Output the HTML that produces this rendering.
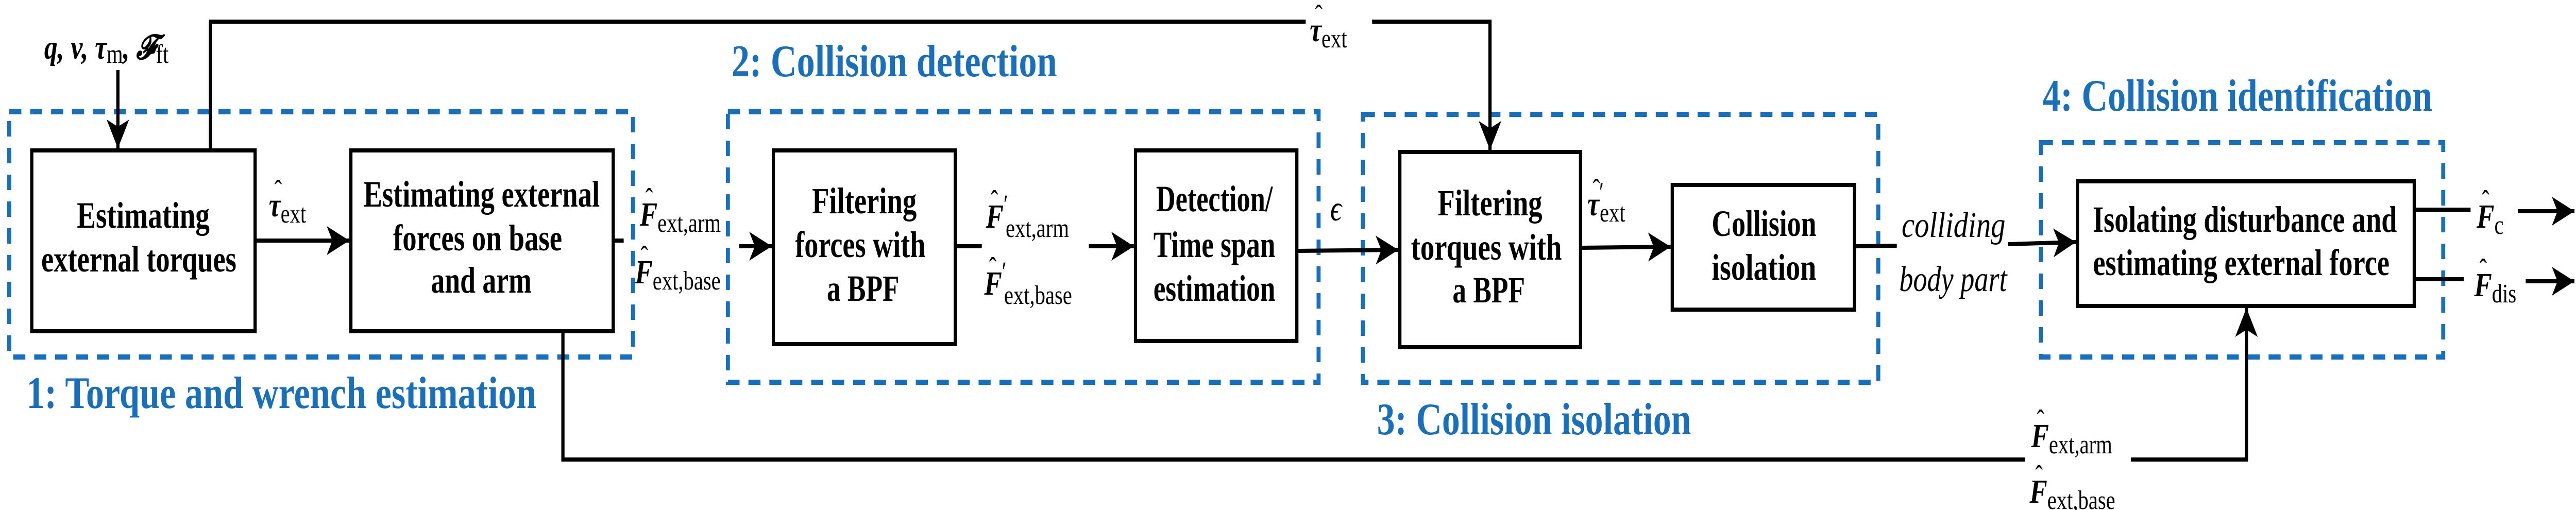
<!DOCTYPE html>
<html><head><meta charset="utf-8"><style>
html,body{margin:0;padding:0;background:#fff;width:100%;height:100%;overflow:hidden;}
svg{display:block;width:100vw;height:100vh;}
.bx{fill:#fff;stroke:#000;stroke-width:8;}
.ln{fill:none;stroke:#000;stroke-width:8;}
.ds{fill:none;stroke:#1a6fb8;stroke-width:10;stroke-dasharray:30,22;}
.bt{font-family:"Liberation Serif",serif;font-weight:bold;font-size:72px;fill:#000;text-anchor:middle;}
.bl{font-family:"Liberation Serif",serif;font-weight:bold;font-size:88px;fill:#1a6fb8;}
.m{font-family:"Liberation Serif",serif;font-weight:bold;font-style:italic;font-size:66px;fill:#000;}
.s{font-family:"Liberation Serif",serif;font-size:52px;fill:#000;font-weight:normal;font-style:normal;}
.h{font-family:"Liberation Serif",serif;font-size:56px;fill:#000;}
.it{font-family:"Liberation Serif",serif;font-style:italic;font-size:70px;fill:#000;}
</style></head><body>
<svg viewBox="0 0 6402 990" preserveAspectRatio="none" xmlns="http://www.w3.org/2000/svg">
<defs>
<marker id="a" markerUnits="userSpaceOnUse" markerWidth="60" markerHeight="56" refX="56" refY="28" orient="auto">
<path d="M0,0 L56,28 L0,56 L14,28 Z" fill="#000"/>
</marker>
</defs>

<rect class="ds" x="23" y="217" width="1550" height="476"/>
<rect class="ds" x="1809" y="217" width="1468" height="525"/>
<rect class="ds" x="3387" y="222" width="1281" height="520"/>
<rect class="ds" x="5072" y="277" width="1000" height="416"/>

<line class="ln" x1="293" y1="136" x2="293" y2="288" marker-end="url(#a)"/>
<polyline class="ln" points="523,292 523,42 3703,42 3703,291" marker-end="url(#a)"/>
<line class="ln" x1="634" y1="467" x2="868" y2="467" marker-end="url(#a)"/>
<line class="ln" x1="1524" y1="467" x2="1550" y2="467"/>
<line class="ln" x1="1837" y1="478" x2="1918" y2="478" marker-end="url(#a)"/>
<line class="ln" x1="2374" y1="478" x2="2440" y2="478"/>
<line class="ln" x1="2706" y1="478" x2="2818" y2="478" marker-end="url(#a)"/>
<line class="ln" x1="3223" y1="487" x2="3475" y2="485" marker-end="url(#a)"/>
<line class="ln" x1="3928" y1="481" x2="4152" y2="479" marker-end="url(#a)"/>
<line class="ln" x1="4609" y1="478" x2="4714" y2="477"/>
<line class="ln" x1="4991" y1="474" x2="5159" y2="470" marker-end="url(#a)"/>
<polyline class="ln" points="1399,643 1399,892 5032,892"/>
<polyline class="ln" points="5296,892 5583,892 5583,598" marker-end="url(#a)"/>
<line class="ln" x1="6000" y1="407" x2="6140" y2="407"/>
<line class="ln" x1="6258" y1="410" x2="6398" y2="410" marker-end="url(#a)"/>
<line class="ln" x1="6000" y1="542" x2="6123" y2="542"/>
<line class="ln" x1="6277" y1="546" x2="6398" y2="546" marker-end="url(#a)"/>

<rect x="3245" y="10" width="165" height="95" fill="#fff"/>

<rect class="bx" x="79" y="292" width="555" height="351"/>
<rect class="bx" x="872" y="292" width="652" height="351"/>
<rect class="bx" x="1922" y="292" width="452" height="376"/>
<rect class="bx" x="2822" y="292" width="401" height="370"/>
<rect class="bx" x="3479" y="295" width="449" height="379"/>
<rect class="bx" x="4156" y="359" width="453" height="242"/>
<rect class="bx" x="5163" y="352" width="837" height="242"/>

<text class="bt" x="356" y="442" textLength="330" lengthAdjust="spacingAndGlyphs">Estimating</text>
<text class="bt" x="345" y="527" textLength="485" lengthAdjust="spacingAndGlyphs">external torques</text>
<text class="bt" x="1197" y="401" textLength="587" lengthAdjust="spacingAndGlyphs">Estimating external</text>
<text class="bt" x="1187" y="486" textLength="420" lengthAdjust="spacingAndGlyphs">forces on base</text>
<text class="bt" x="1196" y="568" textLength="250" lengthAdjust="spacingAndGlyphs">and arm</text>
<text class="bt" x="2148" y="414" textLength="260" lengthAdjust="spacingAndGlyphs">Filtering</text>
<text class="bt" x="2138" y="499" textLength="324" lengthAdjust="spacingAndGlyphs">forces with</text>
<text class="bt" x="2145" y="584" textLength="180" lengthAdjust="spacingAndGlyphs">a BPF</text>
<text class="bt" x="3018" y="410" textLength="290" lengthAdjust="spacingAndGlyphs">Detection/</text>
<text class="bt" x="3018" y="499" textLength="303" lengthAdjust="spacingAndGlyphs">Time span</text>
<text class="bt" x="3018" y="584" textLength="303" lengthAdjust="spacingAndGlyphs">estimation</text>
<text class="bt" x="3703" y="418" textLength="260" lengthAdjust="spacingAndGlyphs">Filtering</text>
<text class="bt" x="3694" y="504" textLength="375" lengthAdjust="spacingAndGlyphs">torques with</text>
<text class="bt" x="3700" y="587" textLength="180" lengthAdjust="spacingAndGlyphs">a BPF</text>
<text class="bt" x="4384" y="458" textLength="260" lengthAdjust="spacingAndGlyphs">Collision</text>
<text class="bt" x="4384" y="543" textLength="260" lengthAdjust="spacingAndGlyphs">isolation</text>
<text class="bt" x="5579" y="450" textLength="756" lengthAdjust="spacingAndGlyphs">Isolating disturbance and</text>
<text class="bt" x="5570" y="534" textLength="737" lengthAdjust="spacingAndGlyphs">estimating external force</text>

<text class="bl" x="66" y="792" textLength="1267" lengthAdjust="spacingAndGlyphs">1: Torque and wrench estimation</text>
<text class="bl" x="1818" y="148" textLength="809" lengthAdjust="spacingAndGlyphs">2: Collision detection</text>
<text class="bl" x="3422" y="843" textLength="781" lengthAdjust="spacingAndGlyphs">3: Collision isolation</text>
<text class="bl" x="5076" y="215" textLength="969" lengthAdjust="spacingAndGlyphs">4: Collision identification</text>

<text class="m" x="110" y="114" font-size="70">q, v, τ<tspan class="s" font-size="52" dy="8">m</tspan><tspan dy="-8">, 𝓕</tspan><tspan class="s" font-size="52" dy="8">ft</tspan></text>

<text class="h" x="682" y="388">ˆ</text>
<text class="m" x="668" y="420">τ<tspan class="s" dy="12">ext</tspan></text>
<text class="h" x="3268" y="48">ˆ</text>
<text class="m" x="3255" y="80">τ<tspan class="s" dy="12">ext</tspan></text>
<text class="h" x="3958" y="386">ˆ</text>
<text class="m" x="3945" y="418">τ<tspan class="s" font-size="44" dy="-28">′</tspan><tspan class="s" dy="40" dx="-10">ext</tspan></text>

<text class="h" x="1604" y="404">ˆ</text>
<text class="m" x="1590" y="438">F<tspan class="s" dy="12">ext,arm</tspan></text>
<text class="h" x="1592" y="516">ˆ</text>
<text class="m" x="1578" y="550">F<tspan class="s" dy="12">ext,base</tspan></text>

<text class="h" x="2462" y="408">ˆ</text>
<text class="m" x="2450" y="442">F<tspan class="s" font-size="44" dy="-28">′</tspan><tspan class="s" dy="46" dx="-6">ext,arm</tspan></text>
<text class="h" x="2458" y="538">ˆ</text>
<text class="m" x="2446" y="572">F<tspan class="s" font-size="44" dy="-28">′</tspan><tspan class="s" dy="46" dx="-6">ext,base</tspan></text>

<text class="it" x="3306" y="428">ϵ</text>

<text class="it" x="4726" y="460" textLength="258" lengthAdjust="spacingAndGlyphs">colliding</text>
<text class="it" x="4720" y="565" textLength="268" lengthAdjust="spacingAndGlyphs">body part</text>

<rect x="5040" y="800" width="250" height="190" fill="#fff"/>
<text class="h" x="5062" y="834">ˆ</text>
<text class="m" x="5048" y="868">F<tspan class="s" dy="12">ext,arm</tspan></text>
<text class="h" x="5058" y="942">ˆ</text>
<text class="m" x="5044" y="976">F<tspan class="s" dy="12">ext,base</tspan></text>

<text class="h" x="6168" y="408">ˆ</text>
<text class="m" x="6155" y="442">F<tspan class="s" dy="12">c</tspan></text>
<text class="h" x="6162" y="541">ˆ</text>
<text class="m" x="6149" y="575">F<tspan class="s" dy="12">dis</tspan></text>
</svg>
</body></html>
